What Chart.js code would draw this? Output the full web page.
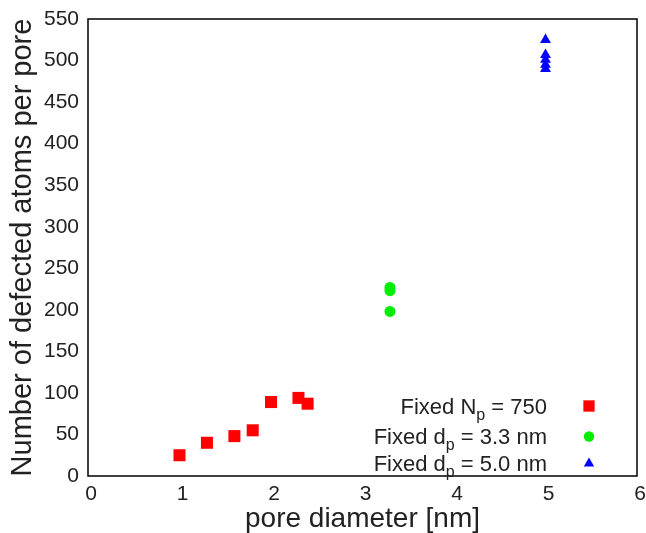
<!DOCTYPE html>
<html>
<head>
<meta charset="utf-8">
<script src="https://cdn.jsdelivr.net/npm/chart.js@4/dist/chart.umd.min.js"></script>
<style>
  html, body { margin: 0; padding: 0; background: #fff; }
  #wrap { width: 646px; height: 533px; }
</style>
</head>
<body>
<div id="wrap"><canvas id="c" width="646" height="533"></canvas></div>
<script>
// Fixed pore count series
const npDiameters = [1.0, 1.3, 1.6, 1.8, 2.0, 2.3, 2.4];
const npDefects   = [25, 40, 48, 55, 89, 94, 87];
// Fixed pore diameter 3.3 nm
const d33Diameters = [3.3, 3.3, 3.3];
const d33Defects   = [227, 223, 198];
// Fixed pore diameter 5.0 nm
const d50Diameters = [5.0, 5.0, 5.0, 5.0, 5.0];
const d50Defects   = [525, 507, 501, 495, 490];

// Legend entries: main text, subscript, tail text
const legendLabels = [
  ['Fixed N', 'p', ' = 750'],
  ['Fixed d', 'p', ' = 3.3 nm'],
  ['Fixed d', 'p', ' = 5.0 nm']
];

const xTicks = [0, 1, 2, 3, 4, 5, 6];
const yTicks = [0, 50, 100, 150, 200, 250, 300, 350, 400, 450, 500, 550];

const FONT = '"Liberation Sans", Arial, Helvetica, sans-serif';

function pts(xs, ys) { return xs.map((x, i) => ({ x: x, y: ys[i] })); }

const styles = [
  { color: '#ff0000', pointStyle: 'rect', radius: 8.5 },
  { color: '#00ee00', pointStyle: 'circle', radius: 5.5 },
  { color: '#0000ff', pointStyle: 'triangle', radius: 6.3 }
];

const seriesData = [
  pts(npDiameters, npDefects),
  pts(d33Diameters, d33Defects),
  pts(d50Diameters, d50Defects)
];

const datasets = seriesData.map((d, i) => ({
  label: legendLabels[i].join(''),
  data: d,
  pointStyle: styles[i].pointStyle,
  pointRadius: styles[i].radius,
  pointHoverRadius: styles[i].radius,
  backgroundColor: styles[i].color,
  borderColor: styles[i].color,
  borderWidth: 0,
  showLine: false
}));

// Frame around the plotting area plus the in-plot key with subscripts
const framePlugin = {
  id: 'frameAndKey',
  afterDatasetsDraw(chart) {
    const ctx = chart.ctx;
    const a = chart.chartArea;
    ctx.save();
    ctx.strokeStyle = '#000';
    ctx.lineWidth = 1.5;
    ctx.strokeRect(a.left, a.top, a.right - a.left, a.bottom - a.top);

    const textRight = a.right - 90;
    const markX = a.right - 48;
    const rowsY = [a.bottom - 70, a.bottom - 39.5, a.bottom - 12.5];
    const mainFont = '22px ' + FONT;
    const subFont = '16px ' + FONT;
    ctx.fillStyle = '#222';
    ctx.textBaseline = 'alphabetic';
    ctx.textAlign = 'left';
    legendLabels.forEach((parts, i) => {
      const baseY = rowsY[i] + 7.5;
      ctx.font = mainFont;
      const w0 = ctx.measureText(parts[0]).width;
      const w2 = ctx.measureText(parts[2]).width;
      ctx.font = subFont;
      const w1 = ctx.measureText(parts[1]).width;
      let x = textRight - (w0 + w1 + w2);
      ctx.font = mainFont;
      ctx.fillText(parts[0], x, baseY);
      x += w0;
      ctx.font = subFont;
      ctx.fillText(parts[1], x, baseY + 6);
      x += w1;
      ctx.font = mainFont;
      ctx.fillText(parts[2], x, baseY);

      ctx.fillStyle = styles[i].color;
      ctx.strokeStyle = styles[i].color;
      ctx.lineWidth = 0;
      const r = styles[i].pointStyle === 'rect' ? 8 : (styles[i].pointStyle === 'circle' ? 5.2 : 6);
      Chart.helpers.drawPoint(ctx, { pointStyle: styles[i].pointStyle, radius: r, rotation: 0, borderWidth: 0 }, markX, rowsY[i]);
      ctx.fillStyle = '#222';
    });
    ctx.restore();
  }
};

new Chart(document.getElementById('c'), {
  type: 'scatter',
  data: { datasets: datasets },
  plugins: [framePlugin],
  options: {
    responsive: false,
    animation: false,
    devicePixelRatio: 1,
    layout: { padding: { top: 19, right: 9, left: 0, bottom: 0 } },
    plugins: { legend: { display: false }, tooltip: { enabled: false } },
    scales: {
      x: {
        type: 'linear',
        min: 0, max: 6,
        afterBuildTicks(s) { s.ticks = xTicks.map(v => ({ value: v })); },
        afterFit(s) { s.height = 57; s.paddingLeft = 0; s.paddingRight = 0; },
        grid: { display: false, drawTicks: false },
        border: { display: false },
        ticks: { padding: 5.5, labelOffset: 3, color: '#222', font: { family: FONT, size: 21 } },
        title: {
          display: true, text: 'pore diameter [nm]', color: '#222',
          font: { family: FONT, size: 28, lineHeight: 1 },
          padding: { top: 0, bottom: 0 }
        }
      },
      y: {
        type: 'linear',
        min: 0, max: 550,
        afterBuildTicks(s) { s.ticks = yTicks.map(v => ({ value: v })); },
        afterFit(s) { s.width = 88; s.paddingTop = 0; s.paddingBottom = 0; },
        grid: { display: false, drawTicks: false },
        border: { display: false },
        ticks: { padding: 9, color: '#222', font: { family: FONT, size: 21 } },
        title: {
          display: true, text: 'Number of defected atoms per pore', color: '#222',
          font: { family: FONT, size: 29, lineHeight: 1 },
          padding: { top: 8, bottom: 0 }
        }
      }
    }
  }
});
</script>
</body>
</html>
